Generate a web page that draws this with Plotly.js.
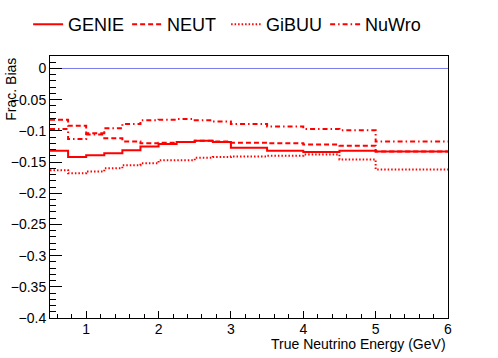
<!DOCTYPE html>
<html>
<head>
<meta charset="utf-8">
<script src="https://cdn.plot.ly/plotly-3.0.1.min.js"></script>
<style>
  html, body { margin: 0; padding: 0; background: #fff; }
  #plot { width: 498px; height: 358px; }
</style>
</head>
<body>
<div id="plot"></div>
<script>
// bin edges (GeV)
var edges = [0.5, 0.75, 1.0, 1.25, 1.5, 1.75, 2.0, 2.25, 2.5, 2.75, 3.0, 3.5, 4.0, 4.5, 5.0, 6.0];

// fractional bias per bin
var genie = [-0.132, -0.142, -0.139, -0.136, -0.131, -0.125, -0.121, -0.118, -0.116, -0.118, -0.127, -0.132, -0.134, -0.132, -0.133];
var neut  = [-0.082, -0.092, -0.104, -0.112, -0.117, -0.120, -0.119, -0.118, -0.116, -0.117, -0.119, -0.120, -0.122, -0.124, -0.133];
var gibuu = [-0.163, -0.168, -0.165, -0.160, -0.155, -0.152, -0.147, -0.147, -0.143, -0.142, -0.141, -0.140, -0.138, -0.146, -0.162];
var nuwro = [-0.097, -0.113, -0.106, -0.096, -0.089, -0.083, -0.082, -0.081, -0.083, -0.085, -0.089, -0.093, -0.097, -0.099, -0.117];

var names  = ['GENIE', 'NEUT', 'GiBUU', 'NuWro'];
var dashes = ['solid', '5px,3px', '1.5px,2px', '5px,3px,1.5px,3px'];

// histogram as step line: repeat last value at the upper edge
function hist(vals, name, dash) {
  return {
    x: edges,
    y: vals.concat([vals[vals.length - 1]]),
    name: name,
    type: 'scatter',
    mode: 'lines',
    line: {shape: 'hv', color: '#ff0000', width: 2, dash: dash},
    hoverinfo: 'skip'
  };
}

var traces = [genie, neut, gibuu, nuwro].map(function(v, i) {
  return hist(v, names[i], dashes[i]);
});

var font = {family: 'Liberation Sans, Arial, sans-serif', size: 14, color: '#000'};

var layout = {
  width: 498, height: 358,
  margin: {l: 50, r: 50, t: 56, b: 40, autoexpand: false},
  paper_bgcolor: '#fff', plot_bgcolor: '#fff',
  font: font,
  showlegend: true,
  legend: {
    orientation: 'h', x: -0.055, xanchor: 'left', y: 1.12, yanchor: 'middle',
    entrywidth: 54, entrywidthmode: 'pixels',
    font: {family: 'Liberation Sans, Arial, sans-serif', size: 18, color: '#000'},
    bgcolor: 'rgba(0,0,0,0)'
  },
  xaxis: {
    range: [0.5, 6], dtick: 1, tick0: 0,
    ticks: 'inside', ticklen: 7, tickcolor: '#000',
    minor: {dtick: 0.2, tick0: 0, ticks: 'inside', ticklen: 4, tickcolor: '#000'},
    showgrid: false, zeroline: false,
    showline: true, mirror: true, linecolor: '#000', linewidth: 1,
    ticklabelstandoff: -2,
    tickfont: font
  },
  yaxis: {
    range: [-0.4, 0.02], dtick: 0.05, tick0: 0,
    ticks: 'inside', ticklen: 12, tickcolor: '#000',
    minor: {dtick: 0.01, tick0: 0, ticks: 'inside', ticklen: 6, tickcolor: '#000'},
    showgrid: false, zeroline: false,
    showline: true, mirror: true, linecolor: '#000', linewidth: 1,
    tickfont: font
  },
  shapes: [
    {type: 'line', xref: 'paper', yref: 'y', x0: 0, x1: 1, y0: 0, y1: 0,
     line: {color: '#7b7bf0', width: 1}, layer: 'below'}
  ],
  annotations: [
    {text: 'True Neutrino Energy (GeV)', xref: 'paper', yref: 'paper',
     x: 1, y: -0.1, xanchor: 'right', yanchor: 'middle', showarrow: false, font: font},
    {text: 'Frac. Bias', xref: 'paper', yref: 'paper', textangle: -90,
     x: -0.1, y: 1.0, xanchor: 'center', yanchor: 'top', showarrow: false, font: font}
  ]
};

Plotly.newPlot('plot', traces, layout, {staticPlot: true, displayModeBar: false});
</script>
</body>
</html>
